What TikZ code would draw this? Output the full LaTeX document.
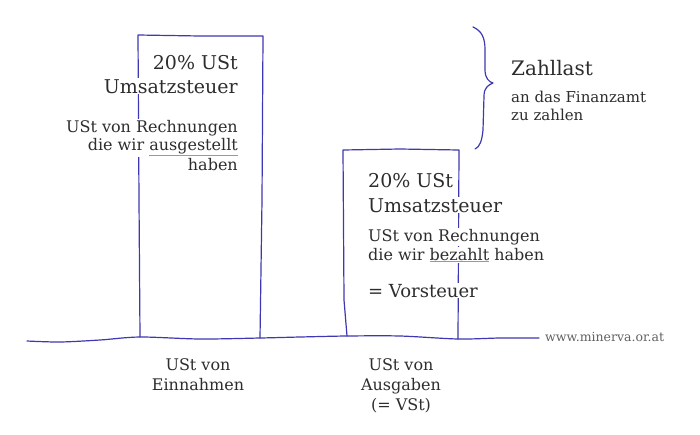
\documentclass[tikz,border=0pt]{standalone}
\usepackage{fontspec}
\setmainfont{DejaVu Serif}
\usetikzlibrary{positioning}
\definecolor{pen}{RGB}{62,56,178}
\definecolor{ink}{RGB}{45,45,45}
\tikzset{hand/.style={draw=pen, line width=1.2pt, line cap=round, line join=round}}
\tikzset{txtbox/.style={text=ink, fill=white, inner sep=1pt}}
\tikzset{headtxt/.style={txtbox, font=\fontsize{19}{24}\selectfont}}
\tikzset{desctxt/.style={txtbox, font=\fontsize{16}{19}\selectfont}}
\tikzset{axistxt/.style={text=ink, align=center, font=\fontsize{16}{20}\selectfont}}
\newcommand{\grayline}[1]{{\color{black!40}\underline{\textcolor{ink}{#1}}}}

\begin{document}
\begin{tikzpicture}[x=1pt,y=-1pt]
\useasboundingbox (0,0) rectangle (700,434);
% corners of the two bars
\coordinate (einTL) at (138,35);
\coordinate (einTR) at (263,36);
\coordinate (einBL) at (140,337);
\coordinate (einBR) at (260,338);
\coordinate (ausTL) at (343,150);
\coordinate (ausTR) at (459,150);
\coordinate (ausBL) at (347,336);
\coordinate (ausBR) at (458,339);
% bars
\draw[hand] (einBL) -- (139,200) -- (einTL) -- (200,36) -- (einTR) -- (262,200) -- (einBR);
\draw[hand] (ausBL) -- (344,300) -- (ausTL) -- (400,149) -- (ausTR) -- (ausBR);
% ground line
\draw[hand] plot[smooth] coordinates {(27,341) (60,342) (100,340) (einBL) (200,339) (einBR) (300,337) (ausBL) (400,336) (ausBR) (500,338) (539,338)};
% brace
\draw[hand] (473,27) .. controls (482,31) and (485,38) .. (485,50) -- (485,70)
	.. controls (485,78) and (489,82) .. (493,83)
	.. controls (488,85) and (484,88) .. (484,96) -- (483,130)
	.. controls (482,140) and (480,147) .. (475,149);

% texts in the left bar, one node per line
\node[headtxt, anchor=base east] (einpct) at (239,69) {20\% USt};
\node[headtxt, anchor=base east] (einust) at (239,93) {Umsatzsteuer};
\node[desctxt, anchor=base east] (einrech) at (239,132) {USt von Rechnungen};
\node[desctxt, anchor=base east] (einwir) at (239,150) {die wir \grayline{ausgestellt}};
\node[desctxt, anchor=base east] (einhab) at (239,170) {haben};
% texts in the right bar
\node[headtxt, anchor=base west] (auspct) at (367,187) {20\% USt};
\node[headtxt, anchor=base west] (ausust) at (367,212) {Umsatzsteuer};
\node[desctxt, anchor=base west] (ausrech) at (367,241) {USt von Rechnungen};
\node[desctxt, anchor=base west] (auswir) at (367,260) {die wir \grayline{bezahlt} haben};
\node[txtbox, font=\fontsize{18}{22}\selectfont, anchor=base west] (vorst) at (367,297) {= Vorsteuer};

% Zahllast
\node[txtbox, font=\fontsize{20}{24}\selectfont, anchor=base west] (zahl) at (510,75) {Zahllast};
\node[txtbox, align=left, font=\fontsize{15}{18}\selectfont, anchor=base west] (zahldesc) at (510,120)
	{an das Finanzamt\\zu zahlen};

% below the line (base = last line)
\node[axistxt, anchor=base] (einlab) at (198,390) {USt von\\Einnahmen};
\node[axistxt, anchor=base] (auslab) at (401,410) {USt von\\Ausgaben\\(= VSt)};
\node[text=black!62, font=\fontsize{12.5}{15}\selectfont, anchor=base west, inner sep=0pt] (url) at (545,341) {www.minerva.or.at};
\end{tikzpicture}
\end{document}
